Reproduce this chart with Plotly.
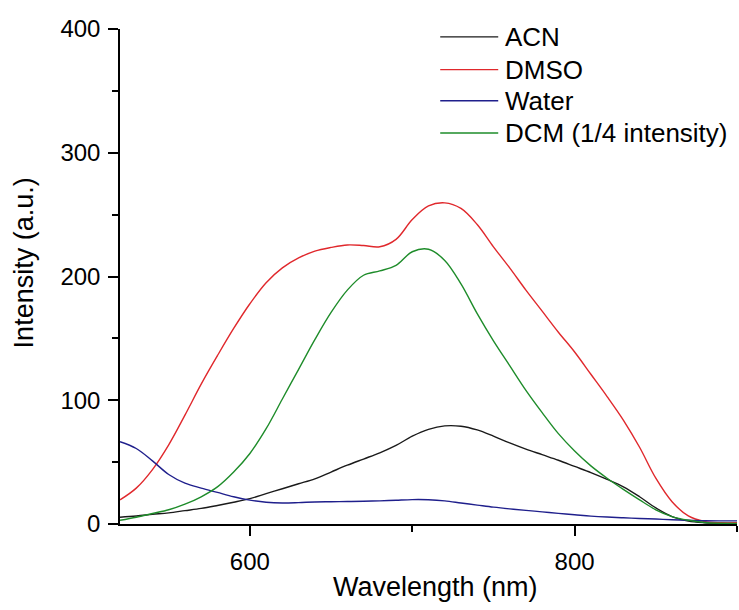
import plotly.graph_objects as go

wavelength = [520, 530, 540, 550, 560, 570, 580, 590, 600, 610, 620, 630, 640, 650,
              660, 670, 680, 690, 700, 710, 720, 730, 740, 750, 760, 770, 780, 790,
              800, 810, 820, 830, 840, 850, 860, 870, 880, 890, 900]

acn = [5.5, 6.5, 7.8, 9, 10.8, 12.6, 15, 17.6, 20.5, 24.5, 28.5, 32.5, 36.5, 42,
       47.5, 52.5, 57.5, 63.5, 71, 76.5, 79.3, 79, 76, 71, 65.5, 60.5, 56, 51.5,
       46.5, 41.5, 36, 30, 22, 13, 6, 2.3, 1, 0.6, 0.5]

dmso = [19.5, 29, 44, 64, 88, 113, 136, 158, 178, 195, 207, 215, 220.5, 223.5,
        225.5, 225, 224, 230, 246, 257, 259.5, 255, 242, 224, 207, 189, 172, 155,
        139, 121, 103, 84, 62, 37, 18, 6.5, 2, 1, 1]

water = [66.5, 61, 51, 40, 33, 29, 25.5, 22, 19.3, 17.6, 17, 17.3, 17.8, 18,
         18.2, 18.4, 18.7, 19.2, 19.7, 19.6, 18.7, 17, 15.3, 13.6, 12.2, 11, 9.8, 8.6,
         7.5, 6.4, 5.6, 5, 4.5, 4, 3.4, 3, 2.6, 2.5, 2.5]

dcm = [3, 5.5, 8.5, 11.5, 16, 22, 30, 42, 57, 77, 101, 125, 149, 171,
       189, 201, 204.5, 209, 220, 222, 213, 194, 170, 148, 128, 108, 90, 73,
       59, 47, 37, 28, 19.5, 11.5, 6, 3, 1.2, 0.6, 0.5]

series_names = ["ACN", "DMSO", "Water", "DCM (1/4 intensity)"]
series_values = [acn, dmso, water, dcm]
series_colors = ["#1a1a1a", "#e0282c", "#1f1f8c", "#1e8c2a"]

x_ticks = [600, 800]
y_ticks = [0, 100, 200, 300, 400]
x_title = "Wavelength (nm)"
y_title = "Intensity (a.u.)"

FONT = "Liberation Sans, Arial, sans-serif"

fig = go.Figure()
for name, vals, col in zip(series_names, series_values, series_colors):
    fig.add_trace(go.Scatter(x=wavelength, y=vals, mode="lines", name=name,
                             line=dict(color=col, width=1.4, shape="spline", smoothing=1.0),
                             showlegend=False))

# custom legend (long line samples like the reference)
leg_x0, leg_x1, leg_tx = 0.519, 0.613, 0.620
leg_y = [0.984, 0.918, 0.855, 0.790]
for name, col, yy in zip(series_names, series_colors, leg_y):
    fig.add_shape(type="line", xref="paper", yref="paper", x0=leg_x0, x1=leg_x1,
                  y0=yy, y1=yy, line=dict(color=col, width=1.4))
    fig.add_annotation(xref="paper", yref="paper", x=leg_tx, y=yy, text=name,
                       showarrow=False, xanchor="left", yanchor="middle",
                       font=dict(family=FONT, size=26, color="black"))

# axis titles
fig.add_annotation(xref="paper", yref="paper", x=0.511, y=-0.127, text=x_title,
                   showarrow=False, xanchor="center", yanchor="middle",
                   font=dict(family=FONT, size=27, color="black"))
fig.add_annotation(xref="paper", yref="paper", x=-0.156, y=0.528, text=y_title,
                   showarrow=False, xanchor="center", yanchor="middle", textangle=-90,
                   font=dict(family=FONT, size=27, color="black"))

axis_common = dict(showline=True, linecolor="black", linewidth=1.5, ticks="outside",
                   ticklen=10, tickwidth=1.5, tickcolor="black", showgrid=False,
                   zeroline=False, tickfont=dict(family=FONT, size=24, color="black"),
                   mirror=False)

fig.update_layout(
    width=739, height=610,
    margin=dict(l=120, r=2, t=29, b=86),
    plot_bgcolor="white", paper_bgcolor="white",
    xaxis=dict(range=[520, 900], tickvals=x_ticks,
               minor=dict(dtick=100, tick0=0, ticks="outside", ticklen=6, tickwidth=1.5,
                          tickcolor="black", showgrid=False),
               ticklabelstandoff=5,
               **axis_common),
    yaxis=dict(range=[0, 400], tickvals=y_ticks,
               minor=dict(dtick=50, tick0=0, ticks="outside", ticklen=6, tickwidth=1.5,
                          tickcolor="black", showgrid=False),
               ticklabelstandoff=3,
               **axis_common),
)

fig.write_html("out.html")
